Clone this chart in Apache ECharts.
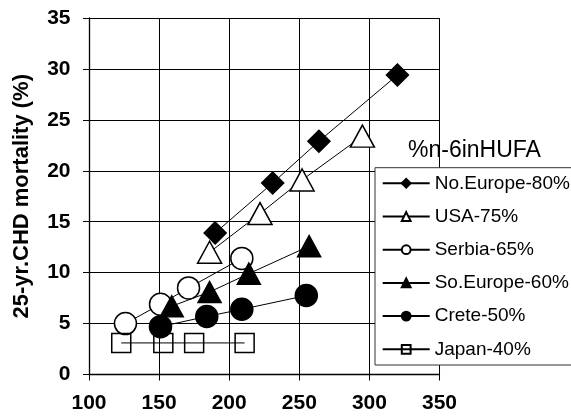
<!DOCTYPE html>
<html>
<head>
<meta charset="utf-8">
<script src="https://cdn.jsdelivr.net/npm/echarts@6/dist/echarts.min.js"></script>
<style>
html,body{margin:0;padding:0;background:#fff;}
#chart{width:571px;height:419px;}
</style>
</head>
<body>
<div id="chart"></div>
<script>
const seriesNames = ['No.Europe-80%', 'USA-75%', 'Serbia-65%', 'So.Europe-60%', 'Crete-50%', 'Japan-40%'];
const noEuropeX = [190, 231, 264, 320];
const noEuropeY = [13.9, 18.8, 22.9, 29.4];
const usaX = [186, 222, 252, 295];
const usaY = [12.0, 15.8, 19.1, 23.4];
const serbiaX = [126, 151, 171, 209];
const serbiaY = [5.0, 6.9, 8.5, 11.4];
const soEuropeX = [159, 186, 214, 257];
const soEuropeY = [6.7, 8.1, 9.9, 12.6];
const creteX = [151, 184, 209, 255];
const creteY = [4.7, 5.7, 6.4, 7.75];
const japanX = [123, 153, 175, 211];
const japanY = [3.1, 3.1, 3.1, 3.1];
const xTicks = [100, 150, 200, 250, 300, 350];
const yTicks = [0, 5, 10, 15, 20, 25, 30, 35];
const legendTitle = '%n-6inHUFA';
const yAxisTitle = '25-yr.CHD mortality (%)';

function pairs(xs, ys) { return xs.map((x, i) => [x, ys[i]]); }

const FONT = '"Liberation Sans", Arial, Helvetica, sans-serif';

function mk(name, xs, ys, symbol, size, fill) {
  return {
    name: name,
    type: 'line',
    data: pairs(xs, ys),
    symbol: symbol,
    symbolSize: size,
    showAllSymbol: true,
    lineStyle: { color: '#000', width: 1 },
    itemStyle: { color: fill, borderColor: '#000', borderWidth: 1.5 },
    emphasis: { disabled: true },
    animation: false
  };
}

const chart = echarts.init(document.getElementById('chart'), null, { renderer: 'canvas' });
chart.setOption({
  backgroundColor: '#fff',
  animation: false,
  grid: { left: 89, top: 18, width: 350.5, height: 356.5, containLabel: false },
  xAxis: {
    type: 'value',
    min: xTicks[0], max: xTicks[xTicks.length - 1], interval: 50,
    axisLine: { show: true, lineStyle: { color: '#000', width: 1.3 } },
    axisTick: { show: true, length: 6, lineStyle: { color: '#000' } },
    axisLabel: { margin: 18, color: '#000', fontFamily: FONT, fontWeight: 'bold', fontSize: 21 },
    splitLine: { show: true, lineStyle: { color: '#000', width: 1 } }
  },
  yAxis: {
    type: 'value',
    min: yTicks[0], max: yTicks[yTicks.length - 1], interval: 5,
    name: yAxisTitle,
    nameLocation: 'middle',
    nameGap: 56,
    nameTextStyle: { color: '#000', fontFamily: FONT, fontWeight: 'bold', fontSize: 22 },
    axisLine: { show: true, lineStyle: { color: '#000', width: 1.3 } },
    axisTick: { show: true, length: 6, lineStyle: { color: '#000' } },
    axisLabel: { margin: 18.5, color: '#000', fontFamily: FONT, fontWeight: 'bold', fontSize: 21 },
    splitLine: { show: true, lineStyle: { color: '#000', width: 1 } }
  },
  legend: {
    orient: 'vertical',
    left: 375, top: 167.7,
    padding: [5.6, 2, 5.7, 6.7],
    itemWidth: 47, itemHeight: 11,
    itemGap: 13.2,
    backgroundColor: '#fff',
    borderColor: '#333', borderWidth: 1,
    textStyle: { color: '#000', fontFamily: FONT, fontSize: 19, lineHeight: 20 },
    data: seriesNames,
    z: 10
  },
  graphic: [{
    type: 'text',
    left: 408, top: 139,
    z: 20,
    style: { text: legendTitle, fill: '#000', font: '23px ' + FONT }
  }],
  series: [
    mk(seriesNames[0], noEuropeX, noEuropeY, 'diamond', 22, '#000'),
    mk(seriesNames[1], usaX, usaY, 'triangle', [24, 22], '#fff'),
    mk(seriesNames[2], serbiaX, serbiaY, 'circle', 22, '#fff'),
    mk(seriesNames[3], soEuropeX, soEuropeY, 'triangle', [23, 21], '#000'),
    mk(seriesNames[4], creteX, creteY, 'circle', 22, '#000'),
    mk(seriesNames[5], japanX, japanY, 'rect', 19, 'transparent')
  ]
});
</script>
</body>
</html>
